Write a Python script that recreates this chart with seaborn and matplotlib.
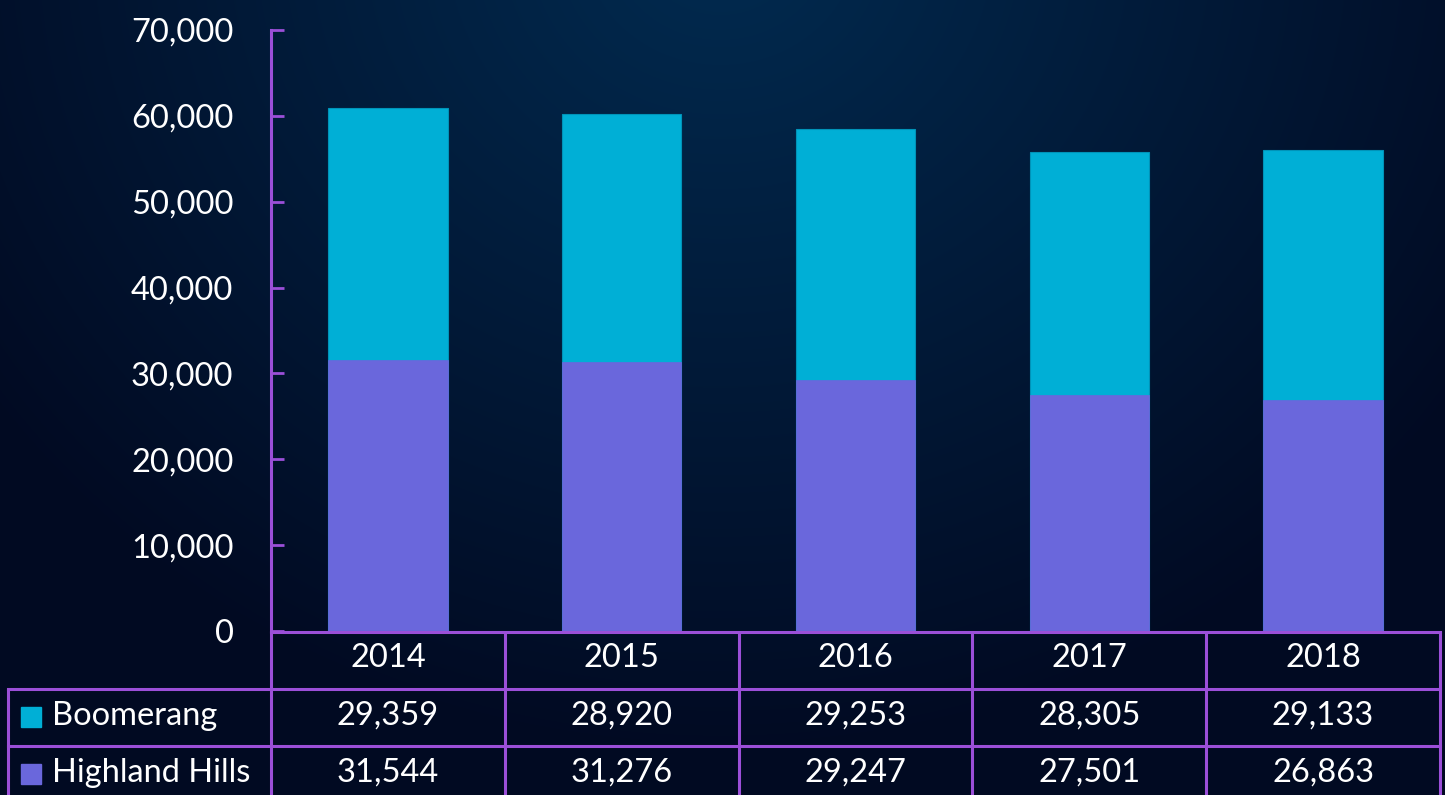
import numpy as np
import pandas as pd
import matplotlib
matplotlib.use("Agg")
import matplotlib.pyplot as plt
import matplotlib.transforms as mtransforms
import seaborn as sns

years = ["2014", "2015", "2016", "2017", "2018"]
boomerang = [29359, 28920, 29253, 28305, 29133]
highland = [31544, 31276, 29247, 27501, 26863]
series_names = ["Boomerang", "Highland Hills"]
yticks = [0, 10000, 20000, 30000, 40000, 50000, 60000, 70000]

CYAN = "#00afd6"
PURPLE_BAR = "#6a67dc"
GRID = "#9b4fd8"
FONT = ["Lato", "DejaVu Sans"]
FS = 23.5

sns.set_theme(style="white")
plt.rcParams["font.family"] = FONT

W, H = 1445, 795
fig = plt.figure(figsize=(W / 100, H / 100), dpi=100)

# background radial gradient
bg = fig.add_axes([0, 0, 1, 1], zorder=0)
yy, xx = np.mgrid[0:H, 0:W]
d = np.sqrt(((xx - 720) / 900.0) ** 2 + ((yy + 60) / 820.0) ** 2)
d = np.clip(d, 0, 1)
c0 = np.array([0x02, 0x2b, 0x50]) / 255
c1 = np.array([0x01, 0x0a, 0x22]) / 255
img = c0[None, None, :] * (1 - d[..., None]) + c1[None, None, :] * d[..., None]
bg.imshow(img, aspect="auto", extent=[0, W, H, 0])
bg.set_xlim(0, W)
bg.set_ylim(H, 0)
bg.axis("off")

# main axes
L, R, T, B = 271, 1440, 30, 631
ax = fig.add_axes([L / W, 1 - B / H, (R - L) / W, (B - T) / H], zorder=1)
ax.set_facecolor("none")

df = pd.DataFrame({"year": years, "boomerang": boomerang, "highland": highland})
df["total"] = df["boomerang"] + df["highland"]

sns.barplot(data=df, x="year", y="total", color=CYAN, saturation=1, width=0.51,
            edgecolor="#0093b8", linewidth=0.8, ax=ax)
sns.barplot(data=df, x="year", y="highland", color=PURPLE_BAR, saturation=1, width=0.51,
            edgecolor=PURPLE_BAR, linewidth=0.5, ax=ax)

ax.set_xlim(-0.5, len(years) - 0.5)
ax.set_ylim(0, 70000)
ax.set_yticks(yticks)
ax.set_yticklabels([f"{v:,}" for v in yticks], color="white", fontsize=FS)
ax.tick_params(axis="y", direction="in", length=9.4, width=2.0, color=GRID, pad=27, left=True)
ax.set_xticks([])
ax.set_xlabel("")
ax.set_ylabel("")
for s in ["top", "right", "bottom"]:
    ax.spines[s].set_visible(False)
ax.spines["left"].set_color(GRID)
ax.spines["left"].set_linewidth(2.2)

# data table
ov = fig.add_axes([0, 0, 1, 1], zorder=2)
ov.set_facecolor("none")
ov.set_xlim(0, W)
ov.set_ylim(H, 0)
ov.axis("off")
lw = 2.2
rows_y = [632, 689, 746, 803]
ov.plot([L, R], [rows_y[0], rows_y[0]], color=GRID, lw=lw, solid_capstyle="projecting")
for y in rows_y[1:3]:
    ov.plot([8, R], [y, y], color=GRID, lw=lw, solid_capstyle="projecting")
ov.plot([8, 8], [rows_y[1], H + 5], color=GRID, lw=lw)
# column separators from main axes data scale
col_edges_px = [ax.transData.transform((i - 0.5, 0))[0] for i in range(len(years) + 1)]
for x in col_edges_px:
    ov.plot([x, x], [rows_y[0], H + 5], color=GRID, lw=lw)

trans = mtransforms.blended_transform_factory(ax.transData, ov.transData)
for i, yr in enumerate(years):
    ax.text(i, 658, yr, transform=trans, ha="center", va="center", color="white", fontsize=FS)
    ax.text(i, 716, f"{boomerang[i]:,}", transform=trans, ha="center", va="center",
            color="white", fontsize=FS)
    ax.text(i, 773, f"{highland[i]:,}", transform=trans, ha="center", va="center",
            color="white", fontsize=FS)
for t in ax.texts:
    t.set_clip_on(False)

for j, (name, col) in enumerate(zip(series_names, [CYAN, PURPLE_BAR])):
    yc = 717 + j * 57
    ov.add_patch(plt.Rectangle((21, yc - 10), 20, 20, color=col))
    ov.text(52, yc - 1, name, ha="left", va="center", color="white", fontsize=FS)

fig.savefig("out.png", dpi=100)
